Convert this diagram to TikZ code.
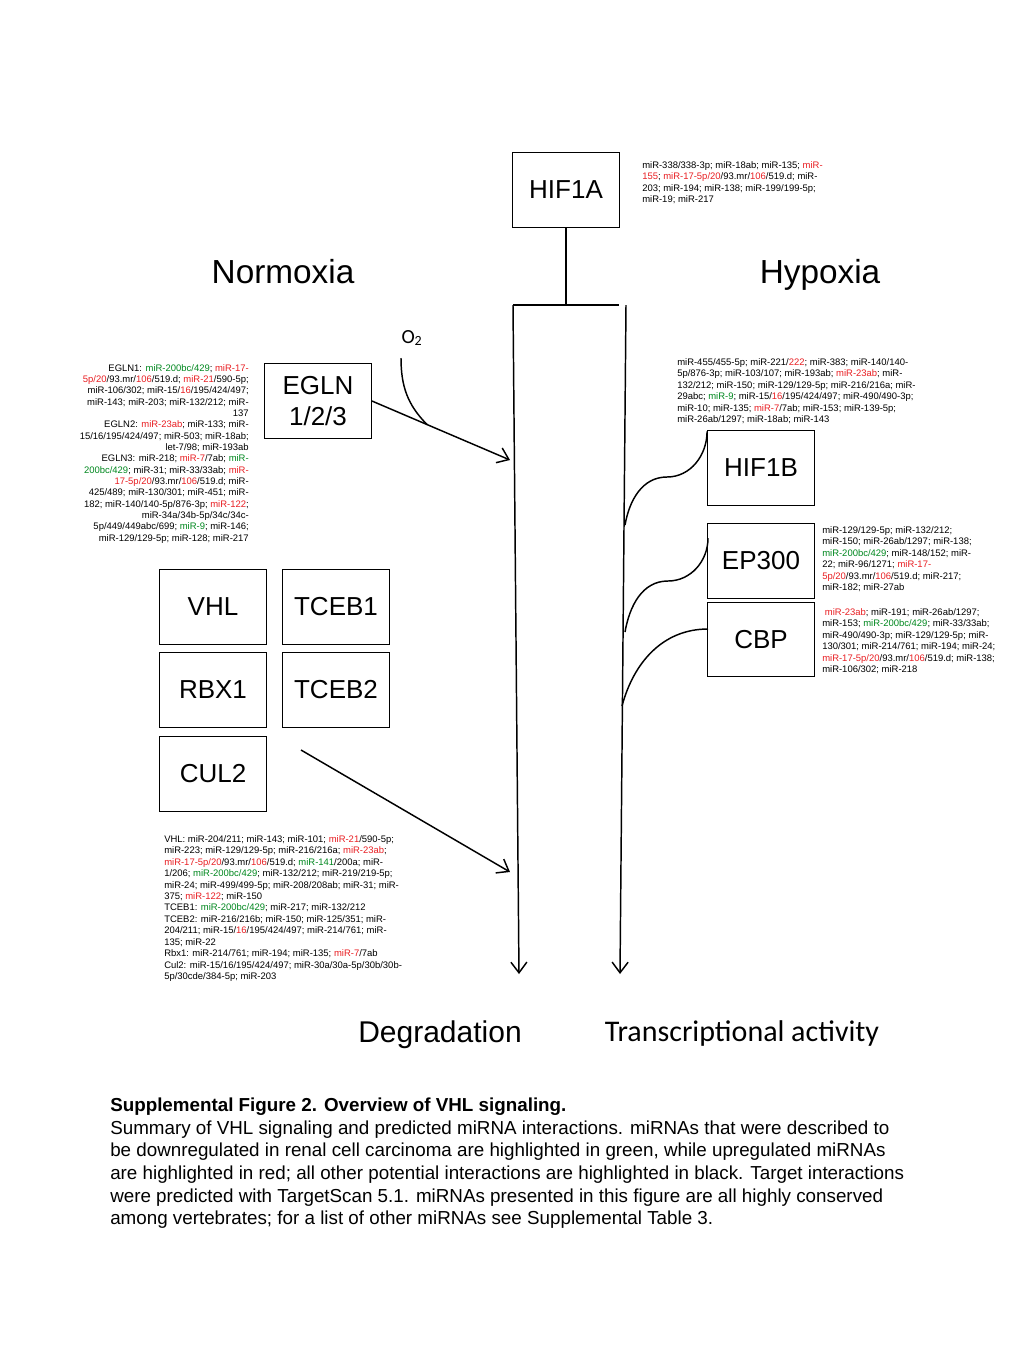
\documentclass[tikz,border=0pt]{standalone}
\usepackage{fontspec}
\setmainfont{Liberation Sans}
\newfontfamily\calibri{Carlito}
\usetikzlibrary{arrows.meta,calc}
\definecolor{mirred}{RGB}{232,30,34}
\definecolor{mirgreen}{RGB}{0,135,30}
\newcommand{\mirup}[1]{\textcolor{mirred}{#1}}
\newcommand{\mirdown}[1]{\textcolor{mirgreen}{#1}}
\tikzstyle{gene}=[draw, line width=0.9pt, minimum width=80pt, minimum height=56pt, inner sep=0pt, font=\fontsize{19.5}{23}\selectfont]
\tikzstyle{mirlist}=[inner sep=0pt, font=\fontsize{7.1}{8.6}\selectfont]
\tikzstyle{state}=[inner sep=0pt, anchor=base, font=\fontsize{25}{30}\selectfont]
\tikzstyle{link}=[line width=1.1pt]

\begin{document}
\begin{tikzpicture}[x=0.75pt, y=-0.75pt, >={Straight Barb[length=8pt,width=12pt]}]
            \useasboundingbox (0,0) rectangle (1024,1365);
            % genes
            \node [gene] (HIF1A) at (566,190) {HIF1A};
            \node [gene, align=center] (EGLN) at (318,401) {EGLN\\1/2/3};
            \node [gene] (HIF1B) at (761,468) {HIF1B};
            \node [gene, below of=HIF1B, node distance=69.75pt] (EP300) {EP300};
            \node [gene, below of=EP300, node distance=58.9pt] (CBP) {CBP};
            \node [gene] (VHL) at (213,607) {VHL};
            \node [gene, right of=VHL, node distance=92.25pt] (TCEB1) {TCEB1};
            \node [gene, below of=VHL, node distance=62.25pt] (RBX1) {RBX1};
            \node [gene, right of=RBX1, node distance=92.25pt] (TCEB2) {TCEB2};
            \node [gene, below of=RBX1, node distance=63pt] (CUL2) {CUL2};
            % headings
            \node [state] (normoxia) at (283,283) {Normoxia};
            \node [state] (hypoxia) at (820,283) {Hypoxia};
            \node [state, font=\fontsize{22.5}{27}\selectfont] (degradation) at (440,1042) {Degradation};
            \node [state, font=\calibri\fontsize{22.5}{27}\selectfont] (activity) at (742,1041) {Transcriptional activity};
            \node [inner sep=0pt, font=\calibri\fontsize{15}{18}\selectfont] (O2) at (412,338) {O\textsubscript{2}};
            % the two paths
            \coordinate (degtop) at (513,305);
            \coordinate (degend) at (519,974);
            \coordinate (trtop) at (626,305);
            \coordinate (trend) at (620,974);
            \coordinate (barmid) at (566,305);
            \coordinate (barend) at (619,305);
            \draw [link] (HIF1A.south) -- (barmid);
            \draw [link] (degtop) -- (barend);
            \draw [link, ->] (degtop) -- (degend);
            \draw [link, ->] (trtop) -- (trend);
            % normoxia side
            \coordinate (eglnend) at (510,460);
            \coordinate (o2start) at (401,358);
            \coordinate (o2hit) at ($(EGLN.east)!0.4!(eglnend)$);
            \draw [link, ->] (EGLN.east) -- (eglnend);
            \draw [link] (o2start) to[out=-90, in=135] (o2hit);
            \coordinate (cul2start) at (301,750);
            \coordinate (cul2end) at (510,872);
            \draw [link, ->] (cul2start) -- (cul2end);
            % hypoxia side
            \coordinate (hif1bmid) at (667,477);
            \coordinate (hif1bend) at (625,525);
            \coordinate (ep300start) at (708,538);
            \coordinate (ep300mid) at (668,581);
            \coordinate (ep300end) at (625,632);
            \coordinate (cbpstart) at (708,629);
            \coordinate (cbpend) at (622,706);
            \draw [link] ([yshift=-1pt]HIF1B.north west) to[out=-90, in=0] (hif1bmid) to[out=180, in=80] (hif1bend);
            \draw [link] (ep300start) to[out=-90, in=0] (ep300mid) to[out=180, in=80] (ep300end);
            \draw [link] (cbpstart) to[out=180, in=75] (cbpend);
            % miRNA lists
            \node [mirlist, anchor=north west, align=left] (hif1alist) at (642,161) {miR-338/338-3p; miR-18ab; miR-135; \mirup{miR-}\\
\mirup{155}; \mirup{miR-17-5p/20}/93.mr/\mirup{106}/519.d; miR-\\
203; miR-194; miR-138; miR-199/199-5p;\\
miR-19; miR-217};
            \node [mirlist, anchor=north east, align=right, font=\fontsize{7.1}{8.5}\selectfont] (egln list) at (249,364) {EGLN1: \mirdown{miR-200bc/429}; \mirup{miR-17-}\\
\mirup{5p/20}/93.mr/\mirup{106}/519.d; \mirup{miR-21}/590-5p;\\
miR-106/302; miR-15/\mirup{16}/195/424/497;\\
miR-143; miR-203; miR-132/212; miR-\\
137\\
EGLN2: \mirup{miR-23ab}; miR-133; miR-\\
15/16/195/424/497; miR-503; miR-18ab;\\
let-7/98; miR-193ab\\
EGLN3: miR-218; \mirup{miR-7}/7ab; \mirdown{miR-}\\
\mirdown{200bc/429}; miR-31; miR-33/33ab; \mirup{miR-}\\
\mirup{17-5p/20}/93.mr/\mirup{106}/519.d; miR-\\
425/489; miR-130/301; miR-451; miR-\\
182; miR-140/140-5p/876-3p; \mirup{miR-122};\\
miR-34a/34b-5p/34c/34c-\\
5p/449/449abc/699; \mirdown{miR-9}; miR-146;\\
miR-129/129-5p; miR-128; miR-217};
            \node [mirlist, anchor=north west, align=left] (hypoxialist) at (677,358) {miR-455/455-5p; miR-221/\mirup{222}; miR-383; miR-140/140-\\
5p/876-3p; miR-103/107; miR-193ab; \mirup{miR-23ab}; miR-\\
132/212; miR-150; miR-129/129-5p; miR-216/216a; miR-\\
29abc; \mirdown{miR-9}; miR-15/\mirup{16}/195/424/497; miR-490/490-3p;\\
miR-10; miR-135; \mirup{miR-7}/7ab; miR-153; miR-139-5p;\\
miR-26ab/1297; miR-18ab; miR-143};
            \node [mirlist, anchor=north west, align=left] (ep300list) at (822,526) {miR-129/129-5p; miR-132/212;\\
miR-150; miR-26ab/1297; miR-138;\\
\mirdown{miR-200bc/429}; miR-148/152; miR-\\
22; miR-96/1271; \mirup{miR-17-}\\
\mirup{5p/20}/93.mr/\mirup{106}/519.d; miR-217;\\
miR-182; miR-27ab};
            \node [mirlist, anchor=north west, align=left] (cbplist) at (822,608) {\hspace*{2pt}\mirup{miR-23ab}; miR-191; miR-26ab/1297;\\
miR-153; \mirdown{miR-200bc/429}; miR-33/33ab;\\
miR-490/490-3p; miR-129/129-5p; miR-\\
130/301; miR-214/761; miR-194; miR-24;\\
\mirup{miR-17-5p/20}/93.mr/\mirup{106}/519.d; miR-138;\\
miR-106/302; miR-218};
            \node [mirlist, anchor=north west, align=left] (vhllist) at (164,835) {VHL: miR-204/211; miR-143; miR-101; \mirup{miR-21}/590-5p;\\
miR-223; miR-129/129-5p; miR-216/216a; \mirup{miR-23ab};\\
\mirup{miR-17-5p/20}/93.mr/\mirup{106}/519.d; \mirdown{miR-141}/200a; miR-\\
1/206; \mirdown{miR-200bc/429}; miR-132/212; miR-219/219-5p;\\
miR-24; miR-499/499-5p; miR-208/208ab; miR-31; miR-\\
375; \mirup{miR-122}; miR-150\\
TCEB1: \mirdown{miR-200bc/429}; miR-217; miR-132/212\\
TCEB2: miR-216/216b; miR-150; miR-125/351; miR-\\
204/211; miR-15/\mirup{16}/195/424/497; miR-214/761; miR-\\
135; miR-22\\
Rbx1: miR-214/761; miR-194; miR-135; \mirup{miR-7}/7ab\\
Cul2: miR-15/16/195/424/497; miR-30a/30a-5p/30b/30b-\\
5p/30cde/384-5p; miR-203};
            % caption
            \node [inner sep=0pt, anchor=north west, align=left, font=\fontsize{14.1}{16.9}\selectfont] (caption) at (110,1098) {\textbf{Supplemental Figure 2. Overview of VHL signaling.}\\
Summary of VHL signaling and predicted miRNA interactions. miRNAs that were described to\\
be downregulated in renal cell carcinoma are highlighted in green, while upregulated miRNAs\\
are highlighted in red; all other potential interactions are highlighted in black. Target interactions\\
were predicted with TargetScan 5.1. miRNAs presented in this figure are all highly conserved\\
among vertebrates; for a list of other miRNAs see Supplemental Table 3.};
        \end{tikzpicture}
\end{document}
